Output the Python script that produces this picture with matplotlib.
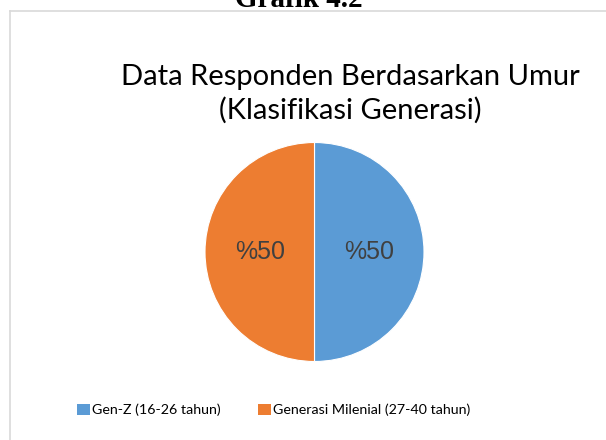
import matplotlib.pyplot as plt
from matplotlib.patches import Patch
from matplotlib.lines import Line2D

# data
labels = ["Gen-Z (16-26 tahun)", "Generasi Milenial (27-40 tahun)"]
values = [50, 50]
colors = ["#5B9BD5", "#ED7D31"]

title = "Data Responden Berdasarkan Umur\n(Klasifikasi Generasi)"
caption = "Grafik 4.2"

W, H = 606, 440
fig = plt.figure(figsize=(W / 100, H / 100), dpi=100)

# figure caption, cut off at the top like the scan
fig.text(299 / W, 1 - 7 / H, caption, ha="center", va="baseline",
         family="Liberation Serif", weight="bold", fontsize=21, color="black")

# chart frame (only top and left edges visible)
fig.add_artist(Line2D([10 / W, 1.0], [1 - 11 / H, 1 - 11 / H], color="#d9d9d9", lw=1.2))
fig.add_artist(Line2D([10 / W, 10 / W], [1 - 11 / H, 0.0], color="#d9d9d9", lw=1.2))

# title
fig.text(350 / W, 1 - 94 / H, title, ha="center", va="center",
         family="Lato", fontsize=21, color="black", linespacing=1.32)

# pie
cx, cy, r = 314.5, 252, 109.5
ax = fig.add_axes([(cx - r) / W, 1 - (cy + r) / H, 2 * r / W, 2 * r / H])
wedges, texts, autotexts = ax.pie(values, colors=colors, startangle=90, counterclock=False,
                                  autopct=lambda p: "%" + f"{p:.0f}", pctdistance=0.5,
                                  wedgeprops=dict(edgecolor="white", linewidth=0.8),
                                  textprops=dict(family="Liberation Sans", fontsize=18, color="#404040"))
ax.set_xlim(-1, 1)
ax.set_ylim(-1, 1)
ax.set_aspect("equal")
ax.axis("off")

handles = [Patch(facecolor=c, edgecolor="none") for c in colors]
fig.legend(handles, labels, loc="center", bbox_to_anchor=(274 / W, 1 - 410 / H), ncol=2,
           frameon=False, handlelength=0.9, handleheight=0.9, handletextpad=0.15,
           columnspacing=2.6, prop=dict(family="Lato", size=10.3))

fig.savefig("out.png", dpi=100)
